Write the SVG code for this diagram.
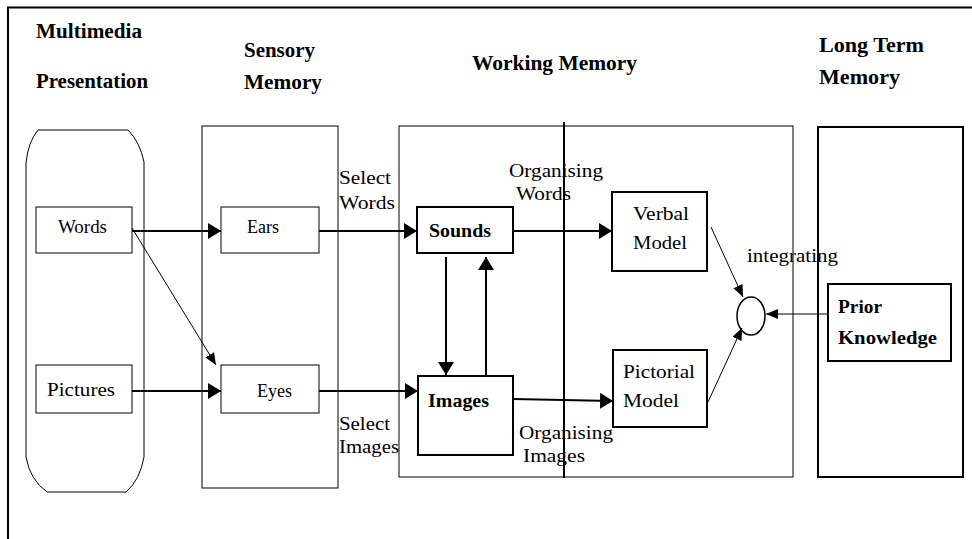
<svg xmlns="http://www.w3.org/2000/svg" width="972" height="539" viewBox="0 0 972 539">
<style>
text{font-family:"Liberation Serif","Times New Roman",serif;fill:#000}
.h{font-weight:bold;font-size:20px}
.l{font-size:19px}
.b{font-weight:bold;font-size:19px}
.thin{fill:none;stroke:#000;stroke-width:1}
.thick{fill:none;stroke:#000;stroke-width:2}
.c{stroke:#000;stroke-width:2;fill:none}
.ct{stroke:#000;stroke-width:1;fill:none}
</style>
<defs>
<marker id="ah" markerUnits="userSpaceOnUse" markerWidth="14" markerHeight="17" refX="13" refY="8" orient="auto">
<path d="M0,0 L13,8 L0,16 Z" fill="#000"/>
</marker>
<marker id="at" markerUnits="userSpaceOnUse" markerWidth="13" markerHeight="11" refX="12" refY="5" orient="auto">
<path d="M0,0 L12,5 L0,10 Z" fill="#000"/>
</marker>
</defs>
<rect width="972" height="539" fill="#fff"/>
<g id="frame">
<path d="M8,539 L8,7.5 L972,7.5" class="thick"/>
</g>
<g id="headings">
<text class="h" x="36" y="38" textLength="106" lengthAdjust="spacingAndGlyphs">Multimedia</text>
<text class="h" x="36" y="88" textLength="112" lengthAdjust="spacingAndGlyphs">Presentation</text>
<text class="h" x="244" y="57" textLength="71" lengthAdjust="spacingAndGlyphs">Sensory</text>
<text class="h" x="244" y="89" textLength="78" lengthAdjust="spacingAndGlyphs">Memory</text>
<text class="h" x="472" y="70" textLength="165" lengthAdjust="spacingAndGlyphs">Working Memory</text>
<text class="h" x="819" y="52" textLength="105" lengthAdjust="spacingAndGlyphs">Long Term</text>
<text class="h" x="819" y="84" textLength="81" lengthAdjust="spacingAndGlyphs">Memory</text>
</g>
<g id="multimedia-presentation">
<path d="M38,130 L128,130 Q140,142 144,162 L144,457 Q140,480 126,492 L47,492 Q30,480 26,457 L26,163 Q28,142 38,130 Z" class="thin"/>
</g>
<g id="sensory-memory">
<rect x="202" y="126" width="136" height="362" class="thin"/>
</g>
<g id="working-memory">
<rect x="399" y="126" width="394" height="351" class="thin"/>
<line x1="564" y1="122" x2="564" y2="478" class="thick"/>
</g>
<g id="long-term-memory">
<rect x="818" y="127" width="145" height="350" class="thick"/>
</g>
<g id="words">
<rect x="36" y="207" width="96" height="46" class="thin"/>
<text class="l" x="58" y="233" textLength="49" lengthAdjust="spacingAndGlyphs">Words</text>
</g>
<g id="pictures">
<rect x="36" y="365" width="96" height="48" class="thin"/>
<text class="l" x="47" y="396" textLength="68" lengthAdjust="spacingAndGlyphs">Pictures</text>
</g>
<g id="ears">
<rect x="221" y="207" width="98" height="46" class="thin"/>
<text class="l" x="247" y="233" textLength="32" lengthAdjust="spacingAndGlyphs">Ears</text>
</g>
<g id="eyes">
<rect x="221" y="365" width="98" height="48" class="thin"/>
<text class="l" x="257" y="397" textLength="35" lengthAdjust="spacingAndGlyphs">Eyes</text>
</g>
<g id="sounds">
<rect x="417" y="207" width="96" height="46" class="thick"/>
<text class="b" x="429" y="237" textLength="62" lengthAdjust="spacingAndGlyphs">Sounds</text>
</g>
<g id="images">
<rect x="418" y="376" width="95" height="79" class="thick"/>
<text class="b" x="428" y="407" textLength="61" lengthAdjust="spacingAndGlyphs">Images</text>
</g>
<g id="verbal-model">
<rect x="612" y="192" width="95" height="79" class="thick"/>
<text class="l" x="633" y="220" textLength="56" lengthAdjust="spacingAndGlyphs">Verbal</text>
<text class="l" x="633" y="249" textLength="54" lengthAdjust="spacingAndGlyphs">Model</text>
</g>
<g id="pictorial-model">
<rect x="613" y="350" width="94" height="77" class="thick"/>
<text class="l" x="623" y="378" textLength="72" lengthAdjust="spacingAndGlyphs">Pictorial</text>
<text class="l" x="623" y="407" textLength="56" lengthAdjust="spacingAndGlyphs">Model</text>
</g>
<g id="prior-knowledge">
<rect x="828" y="284" width="123" height="77" class="thick"/>
<text class="b" x="838" y="313" textLength="44" lengthAdjust="spacingAndGlyphs">Prior</text>
<text class="b" x="838" y="344" textLength="99" lengthAdjust="spacingAndGlyphs">Knowledge</text>
</g>
<g id="integrating">
<ellipse cx="751" cy="316" rx="14" ry="19" fill="none" stroke="#000" stroke-width="1.5"/>
</g>
<g id="labels">
<text class="l" x="339" y="184" textLength="52" lengthAdjust="spacingAndGlyphs">Select</text>
<text class="l" x="339" y="209" textLength="56" lengthAdjust="spacingAndGlyphs">Words</text>
<text class="l" x="339" y="430" textLength="51" lengthAdjust="spacingAndGlyphs">Select</text>
<text class="l" x="339" y="453" textLength="60" lengthAdjust="spacingAndGlyphs">Images</text>
<text class="l" x="509" y="177" textLength="94" lengthAdjust="spacingAndGlyphs">Organising</text>
<text class="l" x="516" y="200" textLength="55" lengthAdjust="spacingAndGlyphs">Words</text>
<text class="l" x="519" y="439" textLength="94" lengthAdjust="spacingAndGlyphs">Organising</text>
<text class="l" x="523" y="462" textLength="62" lengthAdjust="spacingAndGlyphs">Images</text>
<text class="l" x="747" y="262" textLength="91" lengthAdjust="spacingAndGlyphs">integrating</text>
</g>
<g id="connectors">
<line x1="132" y1="231" x2="221" y2="231" class="c" marker-end="url(#ah)"/>
<line x1="319" y1="231" x2="417" y2="231" class="c" marker-end="url(#ah)"/>
<line x1="513" y1="231" x2="612" y2="231" class="c" marker-end="url(#ah)"/>
<line x1="132" y1="391" x2="221" y2="391" class="c" marker-end="url(#ah)"/>
<line x1="319" y1="391" x2="418" y2="391" class="c" marker-end="url(#ah)"/>
<line x1="513" y1="399" x2="613" y2="401" class="c" marker-end="url(#ah)"/>
<line x1="446" y1="257" x2="446" y2="375" class="c" marker-end="url(#ah)"/>
<line x1="486" y1="376" x2="486" y2="257" class="c" marker-end="url(#ah)"/>
<line x1="132" y1="228" x2="216" y2="365" class="ct" marker-end="url(#at)"/>
<line x1="711" y1="227" x2="743" y2="297" class="ct" marker-end="url(#at)"/>
<line x1="708" y1="402" x2="742" y2="328" class="ct" marker-end="url(#at)"/>
<line x1="828" y1="314" x2="766" y2="314" class="ct" marker-end="url(#at)"/>
</g>
</svg>
